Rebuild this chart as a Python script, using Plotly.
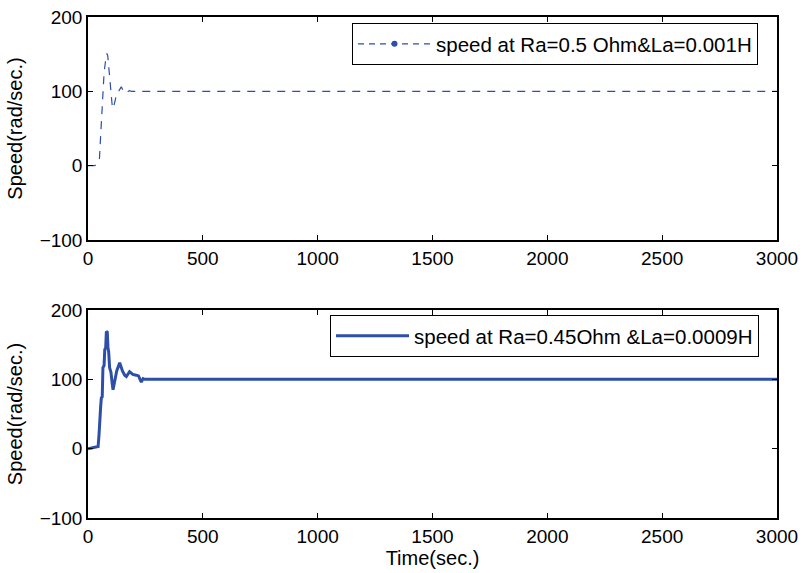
import plotly.graph_objects as go

# Top subplot: Ra=0.5 Ohm, La=0.001H
t_top = [0, 30, 45, 50, 55, 60, 65, 70, 78, 82, 86, 90, 95, 100, 105, 110, 115, 120, 125, 135, 145, 150, 160, 170, 180, 190, 200, 3000]
speed_top = [0, 0, 5, 10, 40, 75, 100, 125, 145, 151, 148, 135, 115, 95, 82, 77, 85, 93, 97, 101, 106, 103, 98, 99, 101, 100, 100, 100]

# Bottom subplot: Ra=0.45 Ohm, La=0.0009H
t_bot = [0, 20, 44, 48, 51, 55, 58, 62, 65, 70, 73, 77, 80, 84, 87, 90, 94, 100, 105, 109, 115, 125, 138, 150, 160, 167, 181, 195, 210, 220, 232, 240, 247, 260, 3000]
speed_bot = [0, 1, 3, 20, 46, 60, 73, 75, 117, 120, 143, 145, 169, 168, 145, 140, 117, 110, 95, 85, 95, 112, 124, 112, 106, 104, 111, 107, 106, 105, 96, 101, 100, 100, 100]

xticks = [0, 500, 1000, 1500, 2000, 2500, 3000]
yticks = [-100, 0, 100, 200]

label_top = "speed at Ra=0.5 Ohm&La=0.001H"
label_bot = "speed at Ra=0.45Ohm &La=0.0009H"
ytitle = "Speed(rad/sec.)"
xtitle = "Time(sec.)"

color = "#2E4FA8"
font = "Liberation Sans, Arial, sans-serif"

fig = go.Figure()
fig.add_trace(go.Scatter(x=t_top, y=speed_top, mode="lines",
                         line=dict(color=color, width=1.2, dash="8px,7px"),
                         showlegend=False, xaxis="x", yaxis="y"))
fig.add_trace(go.Scatter(x=[None], y=[None], mode="lines+markers", name=label_top,
                         line=dict(color=color, width=1.2, dash="6px,5px"),
                         marker=dict(color=color, size=6),
                         xaxis="x", yaxis="y", legend="legend"))
fig.add_trace(go.Scatter(x=t_bot, y=speed_bot, mode="lines", name=label_bot,
                         line=dict(color=color, width=3),
                         xaxis="x2", yaxis="y2", legend="legend2"))

axis_common = dict(showline=True, linecolor="black", linewidth=1.5, mirror="ticks",
                   ticks="inside", ticklen=5, tickcolor="black", showgrid=False,
                   zeroline=False, automargin=False,
                   tickfont=dict(family=font, size=19, color="black"))

xd = [88 / 803, 777 / 803]
fig.update_layout(
    template="none",
    width=803, height=573,
    margin=dict(l=0, r=0, t=0, b=0),
    paper_bgcolor="white", plot_bgcolor="white",
    font=dict(family=font, size=19, color="black"),
    xaxis=dict(domain=xd, range=[0, 3000], tickvals=xticks, anchor="y", **axis_common),
    yaxis=dict(domain=[1 - 240 / 573, 1 - 17 / 573], range=[-100, 200], tickvals=yticks,
               anchor="x", title=dict(text=ytitle, font=dict(size=20), standoff=12), **axis_common),
    xaxis2=dict(domain=xd, range=[0, 3000], tickvals=xticks, anchor="y2",
                title=dict(text=xtitle, font=dict(size=20), standoff=4), **axis_common),
    yaxis2=dict(domain=[1 - 518 / 573, 1 - 310 / 573], range=[-100, 200], tickvals=yticks,
                anchor="x2", title=dict(text=ytitle, font=dict(size=20), standoff=12), **axis_common),
    legend=dict(x=352 / 803, y=1 - 23 / 573, xanchor="left", yanchor="top",
                bgcolor="white", bordercolor="black", borderwidth=1,
                font=dict(family=font, size=20.5, color="black"), itemwidth=73),
    legend2=dict(x=330 / 803, y=1 - 315 / 573, xanchor="left", yanchor="top",
                 bgcolor="white", bordercolor="black", borderwidth=1,
                 font=dict(family=font, size=20.5, color="black"), itemwidth=73),
)

fig.write_html("out.html", config={"displayModeBar": False},
               post_script="document.body.style.margin='0';document.body.style.overflow='hidden';")
